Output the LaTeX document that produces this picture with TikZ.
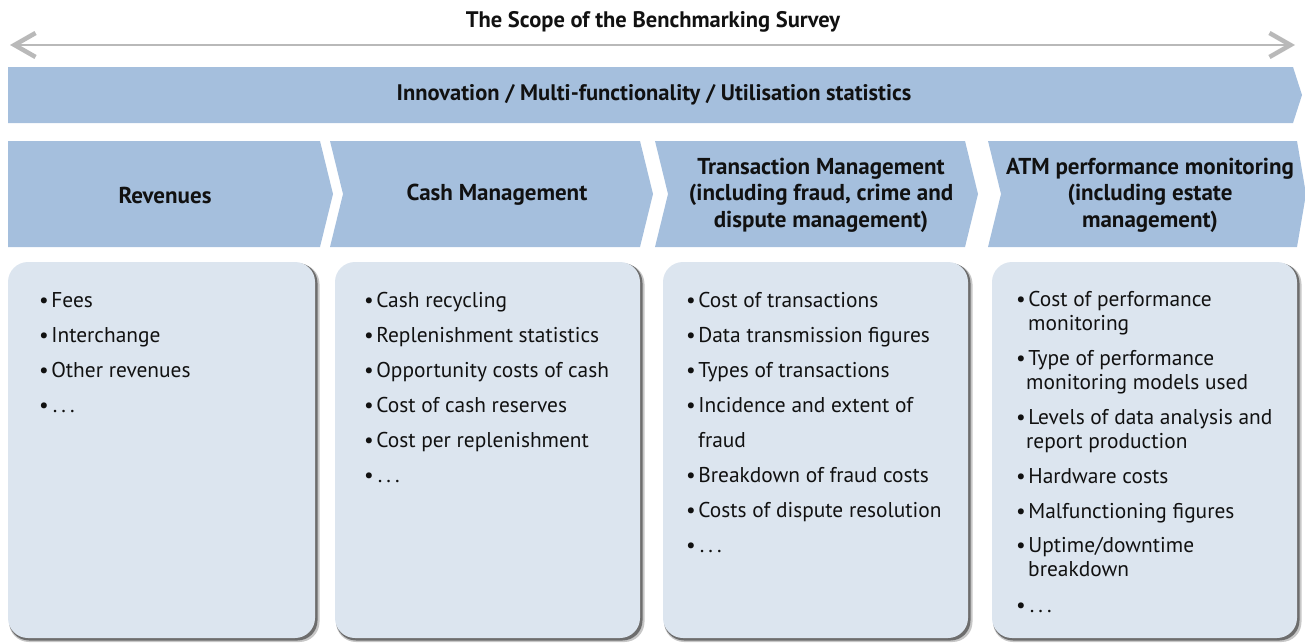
\documentclass[tikz,border=0pt]{standalone}
\usepackage{fontspec}
\setmainfont{PT Sans}
\usetikzlibrary{arrows.meta}
\definecolor{bandblue}{HTML}{A5BFDD}
\definecolor{boxblue}{HTML}{DCE5EF}
\definecolor{arrowgrey}{HTML}{B9B9B9}
\definecolor{inktext}{HTML}{111111}
\newcommand{\mycard}[4]{%
  \fill[black,opacity=.22,rounded corners=20pt] (#1+1,#2+2) rectangle (#3+4.5,#4+4);
  \fill[black,opacity=.45,rounded corners=20pt] (#1+1,#2+1) rectangle (#3+2.5,#4+2.5);
  \fill[boxblue,rounded corners=20pt] (#1,#2) rectangle (#3,#4);}
\newcommand{\bul}{\textbullet\hspace{2.5pt}}
\newcommand{\dotsline}{\textbullet\hspace{4pt}.\hspace{4pt}.\hspace{4pt}.}
\begin{document}
\begin{tikzpicture}[x=1pt,y=-1pt,
  band/.style={fill=bandblue},
  hdr/.style={font=\bfseries\fontsize{23}{26.5}\selectfont, align=center, text=inktext, inner sep=0},
  itm/.style={anchor=base west, inner sep=0, text=inktext, font=\fontsize{21.4}{24}\selectfont}]
\useasboundingbox (0,0) rectangle (1305,642);
% title and arrow
\node[hdr, font=\bfseries\fontsize{22.5}{26}\selectfont] (title) at (653,22) {The Scope of the Benchmarking Survey};
\coordinate (al) at (10,45);
\coordinate (ar) at (1295,45);
\draw[arrowgrey, line width=2pt,
  {Straight Barb[length=21pt,width=24pt,line width=4.5pt]}-{Straight Barb[length=21pt,width=24pt,line width=4.5pt]}] (al) -- (ar);
% banner
\fill[band] (8,67) -- (1293,67) -- (1302,95) -- (1293,123) -- (8,123) -- cycle;
\node[hdr, font=\bfseries\fontsize{22.5}{26}\selectfont] (banner) at (654,95) {Innovation / Multi-functionality / Utilisation statistics};
% chevrons
\fill[band] (8,141) -- (320,141) -- (333,194) -- (320,247) -- (8,247) -- cycle;
\fill[band] (330,141) -- (640,141) -- (653,194) -- (640,247) -- (330,247) -- (343,194) -- cycle;
\fill[band] (655,141) -- (965,141) -- (978,194) -- (965,247) -- (655,247) -- (668,194) -- cycle;
\fill[band] (988,141) -- (1297,141) -- (1306,194) -- (1297,247) -- (988,247) -- (1001,194) -- cycle;
\node[hdr] (h1) at (165,195) {Revenues};
\node[hdr] (h2) at (497,195) {Cash Management};
\node[hdr] (h3) at (821,195) {Transaction Management\\(including fraud, crime and\\dispute management)};
\node[hdr] (h4) at (1150,195) {ATM performance monitoring\\(including estate\\management)};
% cards
\mycard{8}{262}{315}{638}
\mycard{335}{262}{640}{638}
\mycard{663}{262}{968}{638}
\mycard{992}{262}{1297}{638}
% card 1
\node[itm] (a1) at (39,307) {\bul Fees};
\node[itm] (a2) at (39,342) {\bul Interchange};
\node[itm] (a3) at (39,377) {\bul Other revenues};
\node[itm] (a4) at (39,412) {\dotsline};
% card 2
\node[itm] (b1) at (364,307) {\bul Cash recycling};
\node[itm] (b2) at (364,342) {\bul Replenishment statistics};
\node[itm] (b3) at (364,377) {\bul Opportunity costs of cash};
\node[itm] (b4) at (364,412) {\bul Cost of cash reserves};
\node[itm] (b5) at (364,447) {\bul Cost per replenishment};
\node[itm] (b6) at (364,482) {\dotsline};
% card 3
\node[itm] (c1) at (686,307) {\bul Cost of transactions};
\node[itm] (c2) at (686,342) {\bul Data transmission figures};
\node[itm] (c3) at (686,377) {\bul Types of transactions};
\node[itm] (c4) at (686,412) {\bul Incidence and extent of};
\node[itm] (c4b) at (698,447) {fraud};
\node[itm] (c5) at (686,482) {\bul Breakdown of fraud costs};
\node[itm] (c6) at (686,517) {\bul Costs of dispute resolution};
\node[itm] (c7) at (686,552) {\dotsline};
% card 4
\node[itm] (d1) at (1016,306) {\bul Cost of performance};
\node[itm] (d1b) at (1028,330) {monitoring};
\node[itm] (d2) at (1016,365) {\bul Type of performance};
\node[itm] (d2b) at (1026,389) {monitoring models used};
\node[itm] (d3) at (1016,424) {\bul Levels of data analysis and};
\node[itm] (d3b) at (1026,448) {report production};
\node[itm] (d4) at (1016,483) {\bul Hardware costs};
\node[itm] (d5) at (1016,518) {\bul Malfunctioning figures};
\node[itm] (d6) at (1016,552) {\bul Uptime/downtime};
\node[itm] (d6b) at (1028,576) {breakdown};
\node[itm] (d7) at (1016,612) {\dotsline};
\end{tikzpicture}
\end{document}
